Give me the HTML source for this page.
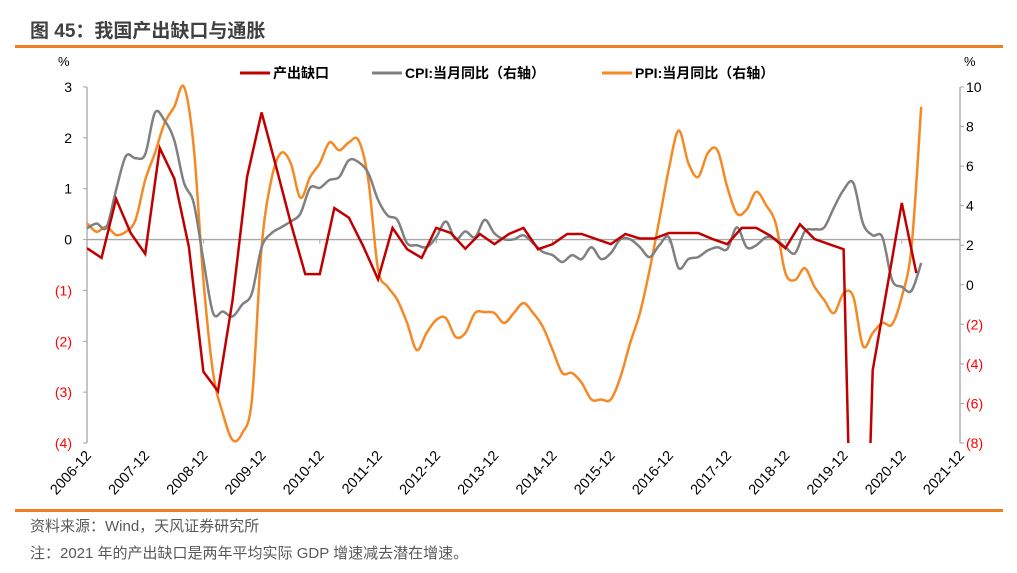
<!DOCTYPE html>
<html style="overflow:hidden"><head><meta charset="utf-8"><style>
html,body{margin:0;padding:0;background:#fff;width:1017px;height:573px;overflow:hidden;font-family:"Liberation Sans","Noto Sans CJK SC",sans-serif}
svg{position:absolute;left:0;top:0;display:block}
</style></head><body>
<svg width="1017" height="573">
<text x="30" y="37" font-size="19" font-weight="bold" fill="#404040" font-family="Liberation Sans,Noto Sans CJK SC,sans-serif">图 45：我国产出缺口与通胀</text>
<rect x="15" y="45" width="988" height="3" fill="#EE7F22"/>
<rect x="15" y="509" width="988" height="3" fill="#EE7F22"/>
<text x="30" y="531" font-size="15" fill="#595959">资料来源：Wind，天风证券研究所</text>
<text x="30" y="558" font-size="15" fill="#595959">注：2021 年的产出缺口是两年平均实际 GDP 增速减去潜在增速。</text>
<g font-size="14" font-weight="bold" fill="#000">
<line x1="240" y1="73" x2="270" y2="73" stroke="#C00000" stroke-width="3"/><text x="273" y="78">产出缺口</text>
<line x1="372" y1="73" x2="402" y2="73" stroke="#808080" stroke-width="3"/><text x="405" y="78">CPI:当月同比（右轴）</text>
<line x1="602" y1="73" x2="632" y2="73" stroke="#F58A25" stroke-width="3"/><text x="635" y="78">PPI:当月同比（右轴）</text>
</g>
<text x="58" y="66" font-size="13">%</text>
<text x="964" y="66" font-size="13">%</text>
<g id="axes"></g>
<defs><clipPath id="clip"><rect x="87" y="84" width="873" height="359"/></clipPath></defs>
<g id="series" clip-path="url(#clip)"></g>
</svg>
<script>
const leftTicks=[3,2,1,0,-1,-2,-3,-4];
const leftTickLabels=["3","2","1","0","(1)","(2)","(3)","(4)"];
const rightTicks=[10,8,6,4,2,0,-2,-4,-6,-8];
const rightTickLabels=["10","8","6","4","2","0","(2)","(4)","(6)","(8)"];
const xLabels=["2006-12","2007-12","2008-12","2009-12","2010-12","2011-12","2012-12","2013-12","2014-12","2015-12","2016-12","2017-12","2018-12","2019-12","2020-12","2021-12"];
// output gap, quarterly from 2006Q4
const gapValues=[-0.17,-0.36,0.8,0.13,-0.28,1.8,1.2,-0.14,-2.6,-2.98,-1.2,1.23,2.5,1.43,0.33,-0.68,-0.68,0.62,0.43,-0.14,-0.78,0.23,-0.19,-0.36,0.23,0.13,-0.18,0.11,-0.09,0.11,0.23,-0.19,-0.09,0.11,0.11,0.01,-0.09,0.11,0.02,0.02,0.13,0.13,0.13,0.01,-0.09,0.23,0.23,0.07,-0.17,0.3,0.01,-0.09,-0.19,-12,-2.57,-0.93,0.72,-0.66];
// CPI yoy, every 2 months from 2006-12
const cpiValues=[2.86,3.1,2.9,4.8,6.5,6.4,6.6,8.7,8.3,7.3,5.15,4.13,1.25,-1.43,-1.35,-1.6,-1.0,-0.43,1.9,2.6,2.9,3.2,3.6,4.9,4.9,5.3,5.45,6.3,6.2,5.65,4.3,3.5,3.28,2.1,2.0,1.9,2.4,3.2,2.3,2.7,2.4,3.28,2.6,2.3,2.3,2.5,2.1,1.66,1.5,1.15,1.5,1.3,1.9,1.3,1.6,2.3,2.3,1.9,1.4,2.0,2.4,0.84,1.3,1.4,1.74,1.9,1.8,2.9,1.9,2.0,2.4,2.3,1.9,1.6,2.7,2.8,2.9,3.9,4.8,5.15,3.1,2.5,2.4,0.24,-0.1,-0.3,1.1];
// PPI yoy, every 2 months from 2006-12
const ppiValues=[3.11,2.68,2.94,2.52,2.68,3.28,5.3,6.66,8.18,9.0,10.0,6.98,0.24,-4.46,-6.5,-7.85,-7.5,-5.8,1.9,5.3,6.66,6.15,4.4,5.45,6.15,7.2,6.8,7.2,7.3,5.3,0.8,-0.1,-0.77,-1.93,-3.3,-2.44,-1.78,-1.68,-2.64,-2.44,-1.43,-1.38,-1.43,-1.93,-1.43,-0.93,-1.43,-2.13,-3.3,-4.46,-4.46,-4.96,-5.8,-5.8,-5.8,-4.66,-2.94,-1.43,0.75,3.28,5.9,7.8,6.15,5.45,6.66,6.8,4.95,3.6,3.8,4.7,4.03,3.1,0.6,0.24,0.84,-0.1,-0.77,-1.43,-0.43,-0.6,-3.1,-2.44,-1.93,-2.0,-0.6,1.9,9.0];

const X0=87,X1=960,MONTHS=180;
const xMonth=m=>X0+(X1-X0)*m/MONTHS;
const yL=v=>87+(3-v)*(443-87)/7;
const yR=v=>87+(10-v)*(443-87)/18;
const NS="http://www.w3.org/2000/svg";
function mk(tag,attrs,parent){const e=document.createElementNS(NS,tag);for(const k in attrs)e.setAttribute(k,attrs[k]);parent.appendChild(e);return e;}
const axes=document.getElementById('axes'),series=document.getElementById('series');

let a=mk('line',{x1:X0,y1:87,x2:X0,y2:443,stroke:'#A6A6A6','stroke-width':1.3},axes);


a=mk('line',{x1:X1,y1:87,x2:X1,y2:443,stroke:'#A6A6A6','stroke-width':1.3},axes);


a=mk('line',{x1:X0,y1:yL(0),x2:X1,y2:yL(0),stroke:'#A6A6A6','stroke-width':1.3},axes);


leftTicks.forEach((v,i)=>{
  mk('line',{x1:X0-4,y1:yL(v),x2:X0,y2:yL(v),stroke:'#A6A6A6'},axes);
  const t=mk('text',{x:72,y:yL(v)+5,'text-anchor':'end','font-size':14,fill:v<0?'#FF0000':'#000'},axes);
  t.textContent=leftTickLabels[i];
  
  
});
rightTicks.forEach((v,i)=>{
  mk('line',{x1:X1,y1:yR(v),x2:X1+4,y2:yR(v),stroke:'#A6A6A6'},axes);
  const t=mk('text',{x:966,y:yR(v)+5,'font-size':14,fill:v<0?'#FF0000':'#000'},axes);
  t.textContent=rightTickLabels[i];
  
  
});
xLabels.forEach((s,i)=>{
  const x=xMonth(i*12);
  if(i%2===0) mk('line',{x1:x,y1:yL(0),x2:x,y2:yL(0)+4,stroke:'#A6A6A6'},axes);
  const t=mk('text',{x:x+5,y:456,'text-anchor':'end','font-size':14.5,fill:'#000',transform:`rotate(-48 ${x+5} 456)`},axes);
  t.textContent=s;
  
  
});
function smooth(pts){let d=`M${pts[0][0]},${pts[0][1]}`;for(let i=0;i<pts.length-1;i++){const p0=pts[i-1]||pts[i],p1=pts[i],p2=pts[i+1],p3=pts[i+2]||p2;d+=` C${p1[0]+(p2[0]-p0[0])/6},${p1[1]+(p2[1]-p0[1])/6} ${p2[0]-(p3[0]-p1[0])/6},${p2[1]-(p3[1]-p1[1])/6} ${p2[0]},${p2[1]}`;}return d;}
const ppiPts=ppiValues.map((v,i)=>[xMonth(i*2),yR(v)]);
let p=mk('path',{d:smooth(ppiPts),fill:'none',stroke:'#F58A25','stroke-width':2.5},series);


const cpiPts=cpiValues.map((v,i)=>[xMonth(i*2),yR(v)]);
p=mk('path',{d:smooth(cpiPts),fill:'none',stroke:'#808080','stroke-width':2.5},series);


const gapPts=gapValues.map((v,i)=>xMonth(i*3)+','+yL(v)).join(' ');
p=mk('polyline',{points:gapPts,fill:'none',stroke:'#C00000','stroke-width':2.5,'stroke-linejoin':'miter'},series);


</script>
</body></html>
